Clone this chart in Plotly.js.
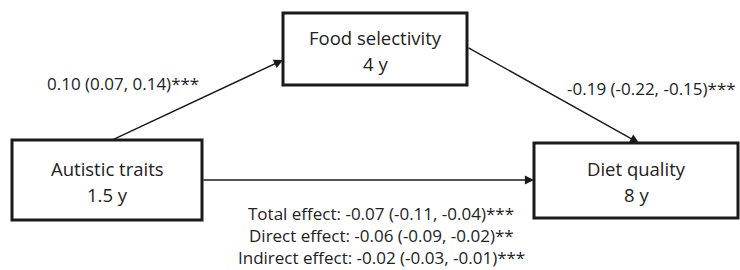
<!DOCTYPE html>
<html><head><meta charset="utf-8">
<script src="https://cdn.plot.ly/plotly-3.0.1.min.js"></script>
<style>html,body{margin:0;padding:0;background:#fff}#chart{width:740px;height:270px}</style>
</head><body><div id="chart"></div>
<script>
// ---- data ----
const nodeNames = ["Autistic traits", "Food selectivity", "Diet quality"];
const nodeAges = ["1.5 y", "4 y", "8 y"];
const pathFrom = ["Autistic traits", "Food selectivity", "Autistic traits"];
const pathTo = ["Food selectivity", "Diet quality", "Diet quality"];
const pathEstimates = ["0.10 (0.07, 0.14)***", "-0.19 (-0.22, -0.15)***", ""];
const effectNames = ["Total effect", "Direct effect", "Indirect effect"];
const effectValues = ["-0.07 (-0.11, -0.04)***", "-0.06 (-0.09, -0.02)**", "-0.02 (-0.03, -0.01)***"];

// ---- layout geometry (pixel-like coordinates) ----
const boxes = {
  "Autistic traits": {x0: 12, x1: 202, y0: 140, y1: 220},
  "Food selectivity": {x0: 283, x1: 467, y0: 13, y1: 85},
  "Diet quality": {x0: 534, x1: 738, y0: 143, y1: 218}
};
const arrowPts = [
  {sx: 112, sy: 140, ex: 283, ey: 60, lx: 123, ly: 83},
  {sx: 467, sy: 47, ex: 639, ey: 143, lx: 651, ly: 88},
  {sx: 202, sy: 180, ex: 534, ey: 180}
];
const effectPos = {x: 381, y: [213, 235, 257]};

const font = "'Open Sans', sans-serif";
const shapes = [];
const annotations = [];

nodeNames.forEach((n, i) => {
  const b = boxes[n];
  const cx = (b.x0 + b.x1) / 2, cy = (b.y0 + b.y1) / 2;
  shapes.push({type: "rect", xref: "x", yref: "y", x0: b.x0, x1: b.x1, y0: b.y0, y1: b.y1,
    line: {color: "#1a1a1a", width: 3}, fillcolor: "rgba(0,0,0,0)"});
  annotations.push({x: cx, y: cy - 12, xref: "x", yref: "y", text: n, showarrow: false,
    font: {family: font, size: 18.5, color: "#222"}});
  annotations.push({x: cx, y: cy + 14, xref: "x", yref: "y", text: nodeAges[i], showarrow: false,
    font: {family: font, size: 18.5, color: "#222"}});
});

pathFrom.forEach((f, i) => {
  const p = arrowPts[i];
  annotations.push({x: p.ex, y: p.ey, ax: p.sx, ay: p.sy, xref: "x", yref: "y", axref: "x", ayref: "y",
    text: "", showarrow: true, arrowhead: 2, arrowsize: 1.3, arrowwidth: 1.4, arrowcolor: "#1a1a1a",
    standoff: 0, startstandoff: 0});
  if (pathEstimates[i]) {
    annotations.push({x: p.lx, y: p.ly, xref: "x", yref: "y", text: pathEstimates[i], showarrow: false,
      font: {family: font, size: 17, color: "#222"}});
  }
});

effectNames.forEach((e, i) => {
  annotations.push({x: effectPos.x, y: effectPos.y[i], xref: "x", yref: "y",
    text: e + ": " + effectValues[i], showarrow: false,
    font: {family: font, size: 17, color: "#222"}});
});

const layout = {
  width: 740, height: 270,
  margin: {l: 0, r: 0, t: 0, b: 0},
  paper_bgcolor: "#fff", plot_bgcolor: "#fff",
  xaxis: {range: [0, 740], visible: false, fixedrange: true},
  yaxis: {range: [270, 0], visible: false, fixedrange: true},
  shapes: shapes, annotations: annotations, showlegend: false
};
Plotly.newPlot("chart", [], layout, {staticPlot: true, displayModeBar: false});
</script>
</body></html>
